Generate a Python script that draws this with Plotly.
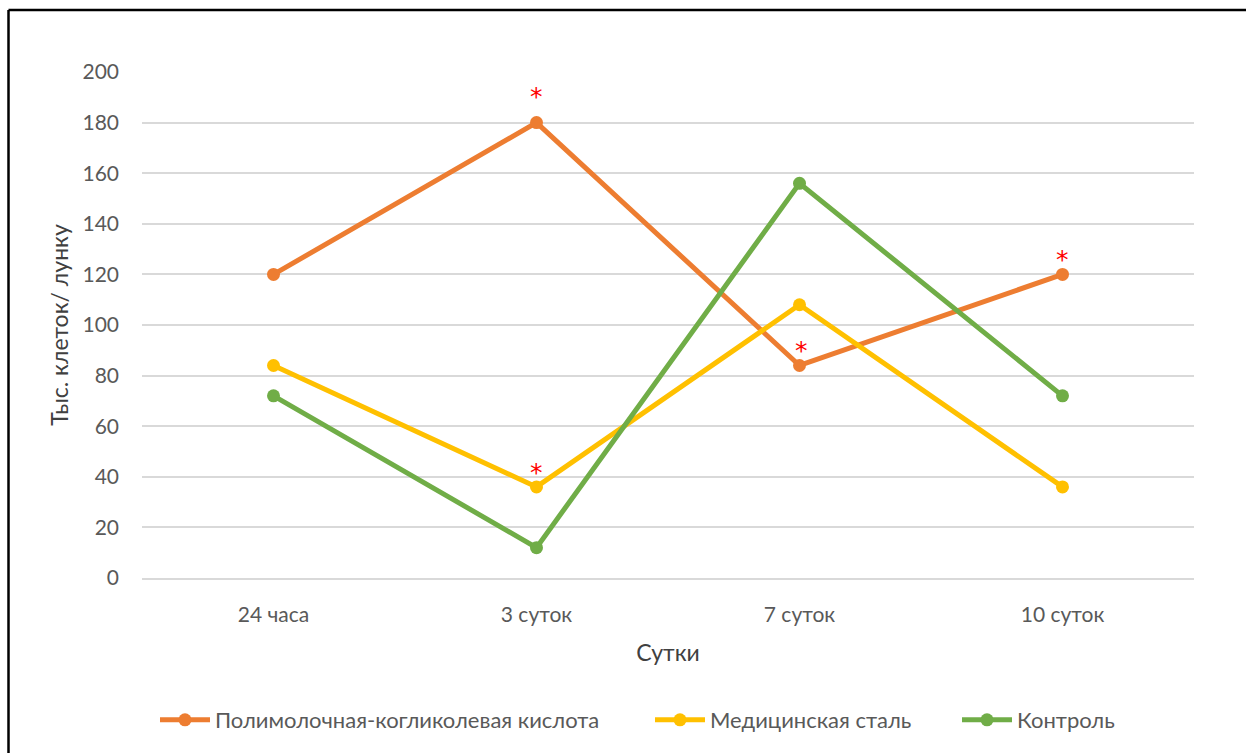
import plotly.graph_objects as go

categories = ["24 часа", "3 суток", "7 суток", "10 суток"]
plga = [120, 180, 84, 120]
steel = [84, 36, 108, 36]
control = [72, 12, 156, 72]
series_names = ["Полимолочная-когликолевая кислота", "Медицинская сталь", "Контроль"]
colors = ["#ED7D31", "#FFC000", "#70AD47"]
# significance marks: (series index, category index)
stars = [(0, 1), (1, 1), (0, 2), (0, 3)]
y_ticks = list(range(0, 201, 20))

W, H = 1246, 753
L, R, T, B = 142, 52, 72, 175
pw, ph = W - L - R, H - T - B

def px2x(px):
    return (px - L) / pw

def py2y(py):
    return (H - B - py) / ph

font_family = "Lato, 'Open Sans', sans-serif"
fig = go.Figure()
all_series = [plga, steel, control]
legend_names = ["legend", "legend2", "legend3"]
legend_left_px = [155, 650, 957]
for name, vals, col, lg in zip(series_names, all_series, colors, legend_names):
    fig.add_trace(go.Scatter(
        x=categories, y=vals, name=name, mode="lines+markers",
        line=dict(color=col, width=5),
        marker=dict(color=col, size=13),
        legend=lg,
    ))

for si, ci in stars:
    fig.add_annotation(
        x=categories[ci], y=all_series[si][ci], text="*", showarrow=False,
        yanchor="bottom", yshift=10 if si == 0 and ci == 1 else -2,
        xshift=2 if ci == 2 else 0,
        font=dict(color="#FF0000", size=25, family="DejaVu Sans"),
    )

# outer frame (top and left edges visible)
fig.add_shape(type="line", xref="paper", yref="paper",
              x0=px2x(8.5), x1=px2x(1260), y0=py2y(10), y1=py2y(10),
              line=dict(color="#000000", width=2.5))
fig.add_shape(type="line", xref="paper", yref="paper",
              x0=px2x(8.5), x1=px2x(8.5), y0=py2y(10), y1=py2y(770),
              line=dict(color="#000000", width=2.5))

legend_common = dict(orientation="h", xanchor="left", yanchor="middle",
                     y=py2y(720), font=dict(size=22, color="#595959"),
                     itemwidth=50, bgcolor="rgba(0,0,0,0)")
layout_legends = {}
for lg, lx in zip(legend_names, legend_left_px):
    layout_legends[lg] = dict(legend_common, x=px2x(lx))

fig.update_layout(
    width=W, height=H,
    margin=dict(l=L, r=R, t=T, b=B),
    paper_bgcolor="white", plot_bgcolor="white",
    font=dict(family=font_family, color="#595959", size=21),
    showlegend=True,
    xaxis=dict(
        range=[-0.5, 3.5], showgrid=False, showline=True,
        linecolor="#D9D9D9", linewidth=1.5, ticks="",
        ticklabelstandoff=17,
        title=dict(text="Сутки", font=dict(size=23, color="#404040"), standoff=20),
    ),
    yaxis=dict(
        range=[0, 200], tickvals=y_ticks, showgrid=True, gridcolor="#D9D9D9",
        gridwidth=1.5, zeroline=False, showline=False, ticks="",
        ticklabelstandoff=22,
        title=dict(text="Тыс. клеток/ лунку", font=dict(size=23, color="#404040"), standoff=7),
    ),
    **layout_legends,
)

fig.write_html("out.html")
